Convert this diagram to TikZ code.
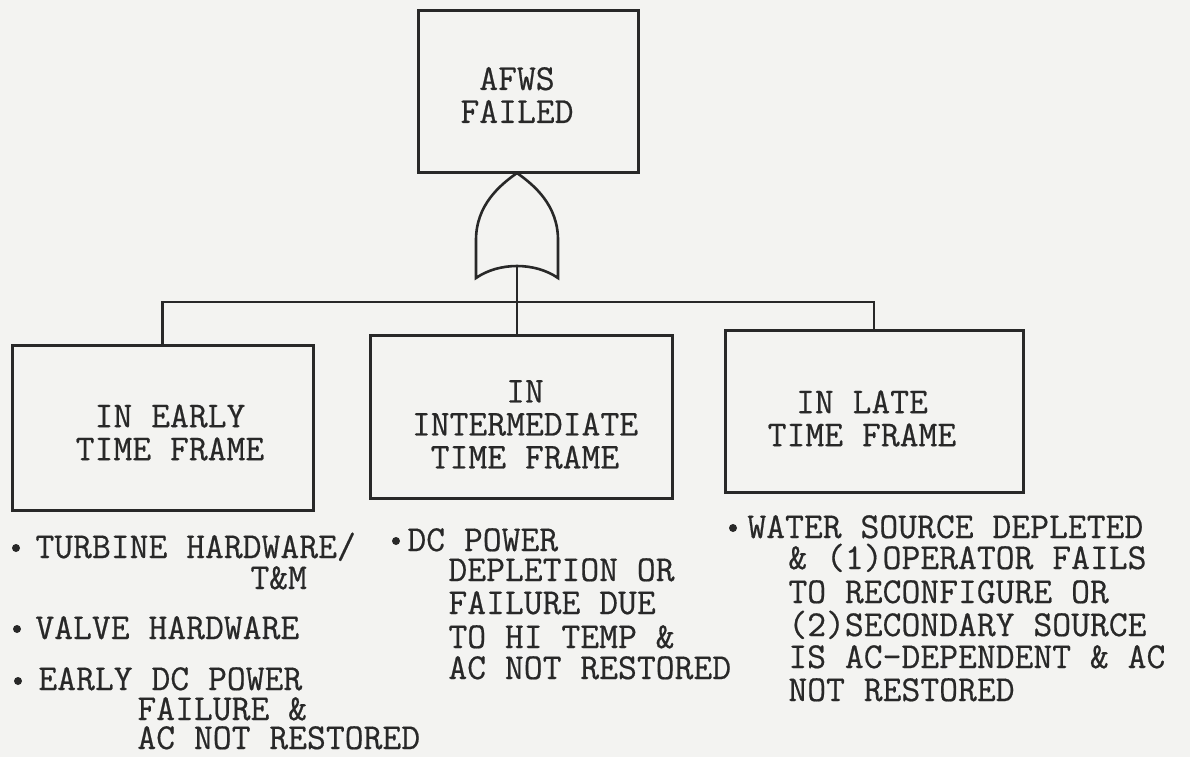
\documentclass[tikz,border=0pt]{standalone}
\usepackage{fontspec}
\newfontfamily\typewr{Latin Modern Mono}[FakeBold=0.5]
\definecolor{paper}{RGB}{243,243,241}
\definecolor{ink}{RGB}{40,40,40}
\newcommand{\tw}{\typewr\fontsize{18.3}{16.5}\selectfont}
\begin{document}
\begin{tikzpicture}[x=0.5pt,y=-0.5pt,
  box/.style={draw=ink,line width=1.5pt,rectangle,inner sep=0pt},
  boxtxt/.style={inner sep=0pt,align=center,font=\tw,text=ink},
  line/.style={draw=ink,line width=1.3pt},
  txt/.style={anchor=base west,inner sep=0pt,text height=11pt,text depth=0pt,
    font=\tw,text=ink},
  dot/.style={circle,fill=ink,inner sep=0pt,minimum size=4pt}]
\fill[paper] (0,0) rectangle (1190,757);
\useasboundingbox (0,0) rectangle (1190,757);
% top event
\node[box,minimum width=110pt,minimum height=81pt] (T) at (528,91) {};
\node[boxtxt] (Tt) at (517,95) {AFWS\\FAILED};
% OR gate
\coordinate (gout) at (517,173);
\coordinate (gin) at (517,266);
\draw[line] (476,278) -- (476,240) .. controls (476,205) and (500,185) .. (gout)
  .. controls (534,185) and (558,205) .. (558,240) -- (558,278)
  .. controls (535,262) and (499,262) .. cycle;
% boxes
\node[box,minimum width=150.5pt,minimum height=82.5pt] (L) at (162.5,427.5) {};
\node[boxtxt] (Lt) at (170,432.5) {IN EARLY\\TIME FRAME};
\node[box,minimum width=151pt,minimum height=81.5pt] (M) at (521,416.5) {};
\node[boxtxt] (Mt) at (525,424.5) {IN\\INTERMEDIATE\\TIME FRAME};
\node[box,minimum width=149pt,minimum height=81pt] (R) at (874,411) {};
\node[boxtxt] (Rt) at (862,418.5) {IN LATE\\TIME FRAME};
% connectors
\coordinate (bar) at (517,302);
\draw[line] (gin) -- (gin |- M.north);
\draw[line] (L.north) |- (bar) -| (R.north);
% left list
\node[dot] (d1) at (16,548) {};
\node[txt] (l1) at (35,558) {TURBINE HARDWARE/};
\node[txt] (l2) at (250,589) {T\&M};
\node[dot] (d2) at (17,629) {};
\node[txt] (l3) at (35,639) {VALVE HARDWARE};
\node[dot] (d3) at (18,681) {};
\node[txt] (l4) at (38,690) {EARLY DC POWER};
\node[txt] (l5) at (137,720) {FAILURE \&};
\node[txt] (l6) at (137,749) {AC NOT RESTORED};
% middle list
\node[dot] (d4) at (396,541) {};
\node[txt] (m1) at (407,551) {DC POWER};
\node[txt] (m2) at (448,581) {DEPLETION OR};
\node[txt] (m3) at (448,614) {FAILURE DUE};
\node[txt] (m4) at (448,648) {TO HI TEMP \&};
\node[txt] (m5) at (448,679) {AC NOT RESTORED};
% right list
\node[dot] (d5) at (733,528) {};
\node[txt] (r1) at (747,538) {WATER SOURCE DEPLETED};
\node[txt] (r2) at (788,569) {\& (1)OPERATOR FAILS};
\node[txt] (r3) at (788,603) {TO RECONFIGURE OR};
\node[txt] (r4) at (788,636) {(2)SECONDARY SOURCE};
\node[txt] (r5) at (788,668) {IS AC-DEPENDENT \& AC};
\node[txt] (r6) at (788,701) {NOT RESTORED};
\end{tikzpicture}
\end{document}
